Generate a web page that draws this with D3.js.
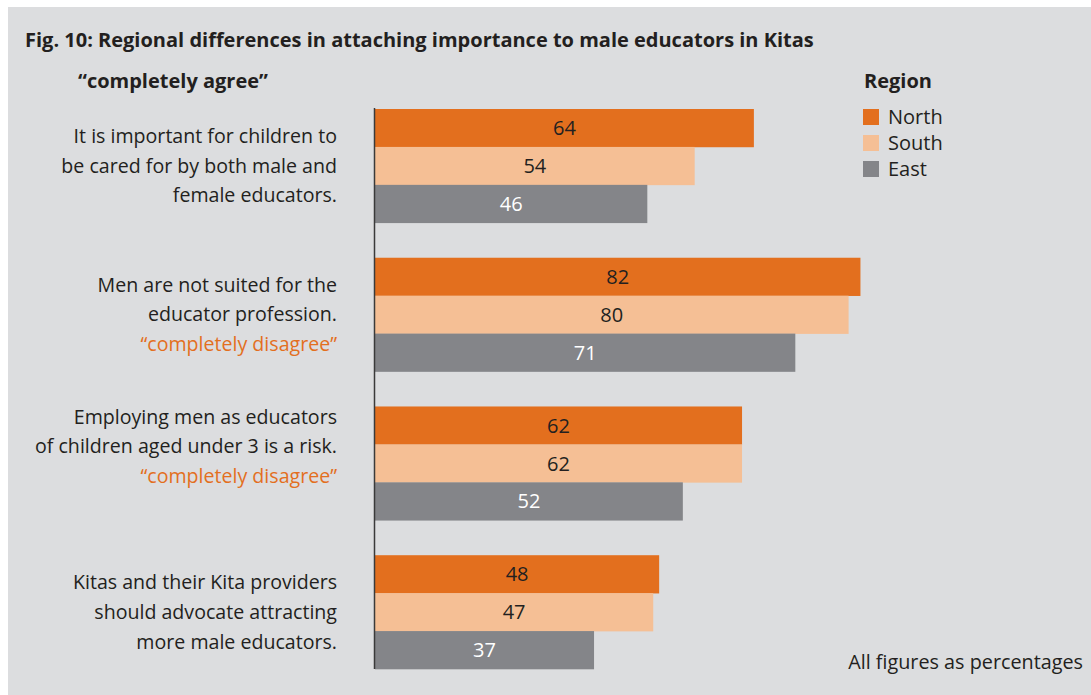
<!DOCTYPE html>
<html><head><meta charset="utf-8">
<script src="https://cdn.jsdelivr.net/npm/d3@7"></script>
<style>
html,body{margin:0;padding:0;background:#fff;}
svg{display:block;}
text{font-family:"Open Sans","Noto Sans",sans-serif;fill:#231f20;}
</style></head>
<body>
<script>
const categories = [
  ["It is important for children to","be cared for by both male and","female educators."],
  ["Men are not suited for the","educator profession."],
  ["Employing men as educators","of children aged under 3 is a risk."],
  ["Kitas and their Kita providers","should advocate attracting","more male educators."]
];
const subnotes = [null, "\u201Ccompletely disagree\u201D", "\u201Ccompletely disagree\u201D", null];
const regions = ["North","South","East"];
const north = [64, 82, 62, 48];
const south = [54, 80, 62, 47];
const east  = [46, 71, 52, 37];
const colors = ["#e36f1e","#f5bf95","#848589"];
const labelColors = ["#231f20","#231f20","#ffffff"];

const W = 1091, H = 695;
const svg = d3.select("body").append("svg").attr("width",W).attr("height",H);
svg.append("rect").attr("x",8).attr("y",7).attr("width",W-8).attr("height",H-7).attr("fill","#dcdddf");

svg.append("text").attr("x",25).attr("y",47).attr("font-size",20).attr("font-weight",700)
  .text("Fig. 10: Regional differences in attaching importance to male educators in Kitas");
svg.append("text").attr("x",78).attr("y",88).attr("font-size",20).attr("font-weight",700)
  .text("\u201Ccompletely agree\u201D");

const x0 = 375;
const x = d3.scaleLinear().domain([0,100]).range([x0, x0+592]);
const y = d3.scaleBand().domain(d3.range(categories.length)).range([109, 669]).paddingInner(0.235).paddingOuter(0);
const yi = d3.scaleBand().domain(regions).range([0, y.bandwidth()]);

const series = [north, south, east];
const data = [];
categories.forEach((c,i)=>regions.forEach((r,j)=>data.push({i, r, j, v: series[j][i]})));

const g = svg.append("g");
g.selectAll("rect.bar").data(data).join("rect").attr("class","bar")
  .attr("x", x(0)).attr("y", d=>y(d.i)+yi(d.r)).attr("width", d=>x(d.v)-x(0)).attr("height", yi.bandwidth()+0.3)
  .attr("fill", d=>colors[d.j]);
g.selectAll("text.val").data(data).join("text").attr("class","val")
  .attr("x", d=>(x(0)+x(d.v))/2).attr("y", d=>y(d.i)+yi(d.r)+yi.bandwidth()/2).attr("dy","0.36em")
  .attr("text-anchor","middle").attr("font-size",20).style("fill", d=>labelColors[d.j]).text(d=>d.v);

// axis line
const lastBottom = y(categories.length-1)+y.bandwidth();
svg.append("line").attr("x1",x0-0.5).attr("x2",x0-0.5).attr("y1",y(0)-1).attr("y2",lastBottom)
  .attr("stroke","#3a3a3a").attr("stroke-width",1.5);

// category labels
const lh = 29.6;
categories.forEach((lines,i)=>{
  const all = subnotes[i] ? lines.concat([subnotes[i]]) : lines;
  const n = all.length;
  let cy = y(i)+y.bandwidth()/2;
  if (i===2) cy -= 17;
  const t = svg.append("text").attr("text-anchor","end").attr("font-size",19.6);
  all.forEach((s,k)=>{
    t.append("tspan").attr("x",337).attr("y", cy + (k-(n-1)/2)*lh).attr("dy","0.35em")
      .style("fill", (subnotes[i] && k===n-1) ? "#e36f1e" : "#231f20").text(s);
  });
});

// legend
svg.append("text").attr("x",864).attr("y",88).attr("font-size",20).attr("font-weight",700).text("Region");
const lg = svg.append("g").selectAll("g").data(regions).join("g")
  .attr("transform",(d,i)=>`translate(863,${109+i*26})`);
lg.append("rect").attr("width",16).attr("height",16).attr("fill",(d,i)=>colors[i]);
lg.append("text").attr("x",25).attr("y",8).attr("dy","0.36em").attr("font-size",20).text(d=>d);

svg.append("text").attr("x",1083).attr("y",669).attr("text-anchor","end").attr("font-size",19.8)
  .text("All figures as percentages");
</script>
</body></html>
